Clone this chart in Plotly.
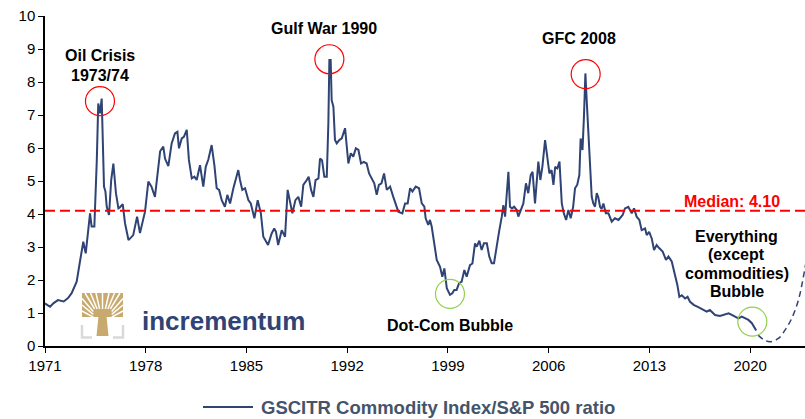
import plotly.graph_objects as go

# GSCITR / S&P 500 ratio (decimal years)
years = [
    1971.0, 1971.35, 1971.6, 1971.9, 1972.3, 1972.6, 1972.85, 1973.2, 1973.43, 1973.66,
    1973.83, 1974.13, 1974.24, 1974.43, 1974.6, 1974.7, 1974.82, 1974.94, 1975.1, 1975.2,
    1975.29, 1975.45, 1975.6, 1975.75, 1975.93, 1976.1, 1976.2, 1976.4, 1976.56, 1976.8,
    1977.13, 1977.4, 1977.6, 1977.95, 1978.18, 1978.4, 1978.64, 1978.87, 1979.0, 1979.22,
    1979.34, 1979.57, 1979.8, 1980.03, 1980.2, 1980.31, 1980.5, 1980.65, 1980.85, 1981.0,
    1981.2, 1981.38, 1981.54, 1981.77, 1982.0, 1982.17, 1982.35, 1982.58, 1982.77, 1982.93,
    1983.1, 1983.28, 1983.5, 1983.67, 1983.86, 1984.09, 1984.32, 1984.43, 1984.55, 1984.71,
    1984.9, 1985.13, 1985.3, 1985.55, 1985.78, 1986.0, 1986.17, 1986.4, 1986.5, 1986.75,
    1986.93, 1987.05, 1987.2, 1987.45, 1987.68, 1987.86, 1988.0, 1988.19, 1988.4, 1988.6,
    1988.8, 1988.95, 1989.19, 1989.32, 1989.49, 1989.65, 1989.8, 1990.0, 1990.11, 1990.25,
    1990.41, 1990.58, 1990.69, 1990.76, 1990.85, 1990.92, 1991.04, 1991.15, 1991.27, 1991.45,
    1991.62, 1991.85, 1992.08, 1992.25, 1992.42, 1992.6, 1992.78, 1992.96, 1993.15, 1993.35,
    1993.52, 1993.7, 1993.88, 1994.05, 1994.2, 1994.38, 1994.56, 1994.75, 1994.98, 1995.2,
    1995.37, 1995.55, 1995.83, 1996.02, 1996.2, 1996.37, 1996.53, 1996.76, 1996.99, 1997.18,
    1997.36, 1997.45, 1997.63, 1997.75, 1997.87, 1998.05, 1998.22, 1998.45, 1998.61, 1998.75,
    1998.92, 1999.14, 1999.3, 1999.44, 1999.6, 1999.77, 1999.95, 2000.14, 2000.3, 2000.53,
    2000.7, 2000.88, 2001.0, 2001.18, 2001.34, 2001.5, 2001.7, 2001.87, 2002.04, 2002.2,
    2002.39, 2002.57, 2002.74, 2002.85, 2002.97, 2003.09, 2003.2, 2003.31, 2003.45, 2003.6,
    2003.78, 2003.89, 2004.05, 2004.24, 2004.42, 2004.58, 2004.75, 2004.88, 2005.05, 2005.28,
    2005.42, 2005.56, 2005.75, 2005.9, 2006.05, 2006.2, 2006.33, 2006.45, 2006.6, 2006.75,
    2006.91, 2007.05, 2007.21, 2007.37, 2007.53, 2007.7, 2007.83, 2007.98, 2008.13, 2008.22,
    2008.35, 2008.45, 2008.55, 2008.64, 2008.75, 2008.87, 2008.99, 2009.1, 2009.22, 2009.34,
    2009.45, 2009.57, 2009.68, 2009.8, 2009.97, 2010.15, 2010.38, 2010.6, 2010.85, 2011.14,
    2011.3, 2011.53, 2011.77, 2011.93, 2012.11, 2012.3, 2012.46, 2012.7, 2012.81, 2012.98,
    2013.16, 2013.32, 2013.5, 2013.69, 2013.92, 2014.15, 2014.32, 2014.55, 2014.78, 2014.94,
    2015.08, 2015.25, 2015.48, 2015.65, 2015.82, 2016.1, 2016.33, 2016.52, 2016.75, 2016.98,
    2017.2, 2017.56, 2017.9, 2018.25, 2018.5, 2018.72, 2018.95, 2019.18, 2019.42, 2019.65,
    2019.88, 2020.12, 2020.28, 2020.42,
]
ratio = [
    1.29, 1.19, 1.30, 1.39, 1.35, 1.45, 1.60, 1.95, 2.56, 3.16,
    2.81, 4.02, 3.62, 3.62, 5.64, 7.35, 7.05, 7.50, 4.83, 4.68,
    4.22, 3.97, 5.03, 5.53, 4.63, 4.17, 4.20, 4.30, 3.72, 3.21,
    3.36, 3.92, 3.42, 4.07, 4.98, 4.83, 4.52, 5.38, 5.90, 6.04,
    5.68, 5.45, 6.14, 6.44, 6.49, 5.99, 6.29, 6.34, 6.55, 5.64,
    5.08, 5.13, 5.03, 5.48, 4.83, 5.43, 5.65, 6.09, 5.48, 4.78,
    4.73, 4.42, 4.22, 4.58, 4.32, 4.78, 5.13, 5.33, 5.03, 4.73,
    4.78, 4.42, 4.32, 3.87, 4.42, 4.02, 3.31, 3.11, 3.06, 3.41,
    3.56, 3.46, 3.06, 3.51, 3.31, 4.73, 4.42, 4.02, 4.42, 4.52,
    4.22, 4.88, 5.03, 5.13, 4.73, 4.52, 5.03, 5.08, 5.68, 5.63,
    5.13, 5.13, 6.75, 8.67, 8.67, 7.45, 7.25, 6.24, 6.14, 6.24,
    6.29, 6.60, 5.53, 5.84, 5.74, 5.99, 5.94, 5.53, 5.58, 5.53,
    5.23, 5.08, 4.93, 4.58, 4.88, 4.93, 5.23, 4.73, 4.83, 4.52,
    4.32, 4.07, 4.02, 4.32, 4.32, 4.78, 4.68, 4.83, 4.78, 4.32,
    4.22, 3.87, 3.67, 3.82, 3.62, 3.11, 2.61, 2.40, 2.10, 2.35,
    1.75, 1.55, 1.60, 1.70, 1.70, 1.90, 1.95, 2.30, 2.10, 2.45,
    2.50, 3.11, 3.01, 3.19, 2.91, 3.11, 3.11, 2.71, 2.51, 2.51,
    2.96, 3.51, 3.92, 4.27, 3.92, 4.73, 5.28, 4.22, 4.17, 4.22,
    4.12, 3.92, 4.12, 4.32, 4.93, 4.63, 5.18, 5.28, 4.32, 5.59,
    5.03, 5.43, 6.24, 5.74, 5.23, 5.33, 4.88, 5.43, 5.38, 5.59,
    4.32, 4.02, 3.82, 4.12, 3.87, 4.22, 4.78, 4.88, 5.18, 6.29,
    5.94, 6.95, 8.26, 7.45, 6.50, 5.43, 4.52, 4.32, 4.22, 4.63,
    4.50, 4.22, 4.15, 4.32, 4.02, 4.02, 3.77, 3.87, 3.82, 3.97,
    4.17, 4.22, 4.02, 4.17, 3.92, 3.82, 3.51, 3.56, 3.36, 3.46,
    3.26, 2.91, 3.06, 2.96, 2.86, 2.61, 2.71, 2.56, 2.15, 1.85,
    1.49, 1.54, 1.44, 1.49, 1.34, 1.24, 1.19, 1.14, 1.09, 1.04,
    1.09, 0.94, 0.91, 0.97, 0.99, 0.94, 0.89, 0.84, 0.89, 0.84,
    0.79, 0.69, 0.59, 0.47,
]

# hand-drawn projection after 2020
proj_years = [2020.55, 2020.92, 2021.38, 2021.96, 2022.42, 2022.89, 2023.35, 2023.7, 2024.05]
proj_vals = [0.33, 0.20, 0.13, 0.23, 0.48, 0.84, 1.39, 2.10, 3.00]

median = 4.10
tick_years = [1971, 1978, 1985, 1992, 1999, 2006, 2013, 2020]
y_ticks = list(range(0, 11))

# highlighted episodes: (year, value, colour)
peaks = [(1974.82, 7.42, "#FF0000"), (1990.76, 8.69, "#FF0000"), (2008.57, 8.24, "#FF0000"),
         (1999.14, 1.58, "#92D050"), (2020.15, 0.74, "#92D050")]

NAVY = "#2F4374"
FONT = "Arial, Liberation Sans, sans-serif"

# plot area in pixels: x 45..805, y 16..346
def px(x):
    return (x - 45) / 760


def py(y):
    return (346 - y) / 330


fig = go.Figure()
fig.add_trace(go.Scatter(x=years, y=ratio, mode="lines",
                         line=dict(color=NAVY, width=2), showlegend=False))
fig.add_trace(go.Scatter(x=proj_years, y=proj_vals, mode="lines", line_shape="spline",
                         line=dict(color=NAVY, width=1.5, dash="6px,4px"), showlegend=False))

shapes = [dict(type="line", xref="paper", x0=0, x1=1, yref="y", y0=median, y1=median,
               line=dict(color="#FF0000", width=2, dash="10px,5px"))]
for x, y, c in peaks:
    shapes.append(dict(type="circle", xref="x", yref="y", xsizemode="pixel", ysizemode="pixel",
                       xanchor=x, yanchor=y, x0=-14.5, x1=14.5, y0=-14.5, y1=14.5,
                       line=dict(color=c, width=1.2)))

# incrementum logo (tree icon)
GOLD = "#C8AA6E"
shapes.append(dict(type="rect", xref="paper", yref="paper", x0=px(82), x1=px(123),
                   y0=py(317), y1=py(293), fillcolor=GOLD, line_width=0, layer="above"))
shapes.append(dict(type="path", xref="paper", yref="paper",
                   path="M %f,%f L %f,%f L %f,%f L %f,%f Z" % (px(98.5), py(316), px(106.5), py(316),
                                                              px(108.5), py(336), px(96.5), py(336)),
                   fillcolor=GOLD, line_width=0, layer="above"))
cx, cy = 102.5, 322
edge = [(85, 293), (90.5, 293), (96, 293), (102.5, 293), (109, 293), (114.5, 293), (120, 293),
        (82, 298.5), (82, 305), (82, 311), (123, 298.5), (123, 305), (123, 311)]
for ex, ey in edge:
    fx, fy = ex + 0.55 * (cx - ex), ey + 0.55 * (cy - ey)
    shapes.append(dict(type="line", xref="paper", yref="paper", x0=px(ex), y0=py(ey),
                       x1=px(fx), y1=py(fy), line=dict(color="white", width=1.5), layer="above"))
for xs in [(82, 92), (123, 113)]:
    shapes.append(dict(type="path", xref="paper", yref="paper",
                       path="M %f,%f L %f,%f L %f,%f" % (px(xs[0]), py(325), px(xs[0]), py(337.5),
                                                        px(xs[1]), py(337.5)),
                       line=dict(color="#D9D9D9", width=2.5), layer="above"))

# legend sample
shapes.append(dict(type="line", xref="paper", yref="paper", x0=px(203), x1=px(253),
                   y0=py(407), y1=py(407), line=dict(color=NAVY, width=2)))

bold = dict(family=FONT, size=16, color="black", weight="bold")
notes = [
    ("Oil Crisis", 1974.82, 8.79, bold),
    ("1973/74", 1974.82, 8.21, bold),
    ("Gulf War 1990", 1990.39, 9.62, bold),
    ("GFC 2008", 2008.14, 9.33, bold),
    ("Median: 4.10", 2018.74, 4.39, dict(bold, color="#FF0000")),
    ("Dot-Com Bubble", 1999.14, 0.61, bold),
    ("Everything", 2019.07, 3.32, bold),
    ("(except", 2019.07, 2.76, bold),
    ("commodities)", 2019.07, 2.20, bold),
    ("Bubble", 2019.07, 1.64, bold),
]
annotations = [dict(text=t, x=x, y=y, xref="x", yref="y", showarrow=False,
                    xanchor="center", yanchor="middle", font=f) for t, x, y, f in notes]
annotations.append(dict(text="incrementum", xref="paper", yref="paper", x=px(223), y=py(321),
                        showarrow=False, xanchor="center", yanchor="middle",
                        font=dict(family=FONT, size=26, color=NAVY, weight="bold")))
annotations.append(dict(text="GSCITR Commodity Index/S&P 500 ratio", xref="paper", yref="paper",
                        x=px(259), y=py(407), showarrow=False, xanchor="left", yanchor="middle",
                        font=dict(family=FONT, size=18.5, color="#44546A", weight="bold")))

fig.update_layout(
    width=805, height=419,
    margin=dict(l=45, r=0, t=16, b=73),
    paper_bgcolor="white", plot_bgcolor="white",
    font=dict(family=FONT, size=15, color="black"),
    shapes=shapes, annotations=annotations,
    xaxis=dict(range=[1971, 2023.81], tickvals=tick_years, ticks="outside", ticklen=5,
               tickcolor="black", showline=True, linecolor="black", linewidth=1.5,
               showgrid=False, zeroline=False),
    yaxis=dict(range=[0, 10], tickvals=y_ticks, ticks="outside", ticklen=5,
               tickcolor="black", showline=True, linecolor="black", linewidth=1.5,
               showgrid=False, zeroline=False),
)

# page has a default body margin; drop it so the figure fills the window
fig.write_html("out.html", config={"displayModeBar": False},
               post_script="document.body.style.margin='0';")
